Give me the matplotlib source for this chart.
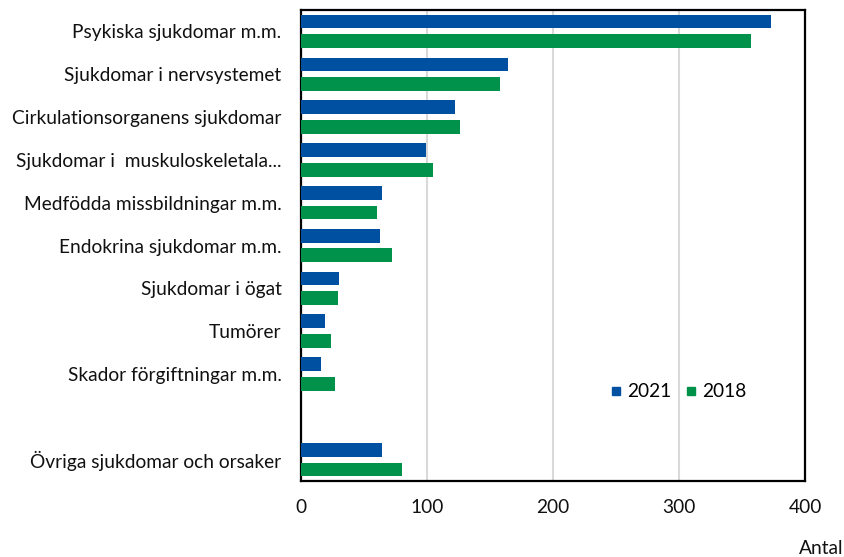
import matplotlib
matplotlib.use('Agg')
import matplotlib.pyplot as plt
from matplotlib.lines import Line2D
import numpy as np

plt.rcParams['font.family'] = ['Lato', 'DejaVu Sans']

categories = ['Psykiska sjukdomar m.m.', 'Sjukdomar i nervsystemet',
              'Cirkulationsorganens sjukdomar', 'Sjukdomar i  muskuloskeletala...',
              'Medfödda missbildningar m.m.', 'Endokrina sjukdomar m.m.',
              'Sjukdomar i ögat', 'Tumörer', 'Skador förgiftningar m.m.',
              '', 'Övriga sjukdomar och orsaker']
y2021 = [373, 164, 122, 99, 64, 63, 30, 19, 16, np.nan, 64]
y2018 = [357, 158, 126, 105, 60, 72, 29, 24, 27, np.nan, 80]

blue = '#0050a2'
green = '#00924a'
fs = 13.8

fig = plt.figure(figsize=(8.45, 5.57), dpi=100)
ax = fig.add_axes([301 / 845, 1 - 481 / 557, 504 / 845, 471 / 557])

pos = np.arange(len(categories))
ax.barh(pos - 0.23, y2021, height=0.32, color=blue, zorder=3)
ax.barh(pos + 0.23, y2018, height=0.32, color=green, zorder=3)

ax.set_ylim(len(categories) - 0.5, -0.5)
ax.set_xlim(0, 400)
ax.set_xticks([0, 100, 200, 300, 400])
ax.set_yticks(pos)
ax.set_yticklabels(categories)
ax.tick_params(axis='both', length=0, labelsize=fs, colors='#111111')
ax.tick_params(axis='x', pad=13)
ax.tick_params(axis='y', pad=14)
ax.grid(axis='x', color='#d9d9d9', linewidth=1.5, zorder=0)
for s in ax.spines.values():
    s.set_color('black')
    s.set_linewidth(1.6)

handles = [Line2D([], [], marker='s', linestyle='', color=blue, markersize=6, label='2021'),
           Line2D([], [], marker='s', linestyle='', color=green, markersize=6, label='2018')]
ax.legend(handles=handles, loc='center', bbox_to_anchor=(0.745, 0.189), ncol=2,
          frameon=False, fontsize=fs, handletextpad=0.1, columnspacing=0.5,
          handlelength=1.0)

fig.text(843 / 845, 1 - 548 / 557, 'Antal', ha='right', va='center', fontsize=fs, color='#111111')

fig.savefig('out.png', dpi=100)
